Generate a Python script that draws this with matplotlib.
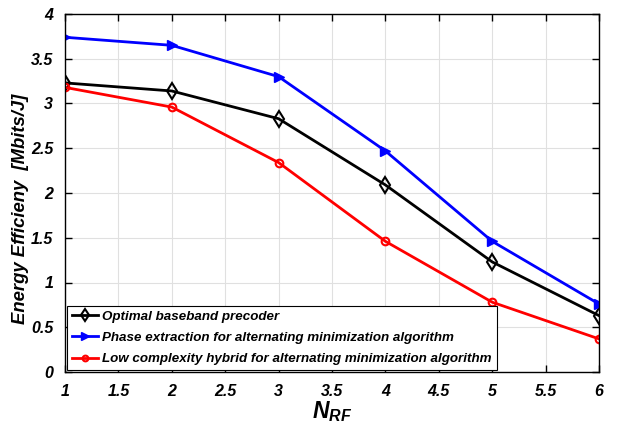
import matplotlib
matplotlib.use("Agg")
import matplotlib.pyplot as plt

plt.rcParams['font.family'] = ['Liberation Sans', 'DejaVu Sans']
plt.rcParams['mathtext.fontset'] = 'custom'
plt.rcParams['mathtext.it'] = 'Liberation Sans:bold:italic'
plt.rcParams['mathtext.rm'] = 'Liberation Sans:bold'

n_rf = [1, 2, 3, 4, 5, 6]
optimal = [3.23, 3.14, 2.83, 2.09, 1.23, 0.63]
phase_extraction = [3.74, 3.65, 3.30, 2.47, 1.46, 0.76]
low_complexity = [3.18, 2.96, 2.34, 1.46, 0.78, 0.37]

labels = [
    "Optimal baseband precoder",
    "Phase extraction for alternating minimization algorithm",
    "Low complexity hybrid for alternating minimization algorithm",
]

xticks = [1, 1.5, 2, 2.5, 3, 3.5, 4, 4.5, 5, 5.5, 6]
yticks = [0, 0.5, 1, 1.5, 2, 2.5, 3, 3.5, 4]

fig = plt.figure(figsize=(6.19, 4.25), dpi=100)
ax = fig.add_axes([65 / 619, 53 / 425, 534 / 619, 358 / 425])

ax.plot(n_rf, optimal, color='black', lw=2, marker='d', ms=8.5,
        mfc='none', mec='black', mew=1.5, label=labels[0])
ax.plot(n_rf, phase_extraction, color='blue', lw=2, marker='>', ms=7.5,
        mfc='blue', mec='blue', label=labels[1])
ax.plot(n_rf, low_complexity, color='red', lw=2, marker='o', ms=5.5,
        mfc='none', mec='red', mew=1.5, label=labels[2])

ax.set_xlim(1, 6)
ax.set_ylim(0, 4)
ax.set_xticks(xticks)
ax.set_xticklabels([f"{v:g}" for v in xticks])
ax.set_yticks(yticks)
ax.set_yticklabels([f"{v:g}" for v in yticks])
ax.grid(True, color='#e0e0e0', lw=0.8)
ax.set_axisbelow(True)
ax.tick_params(direction='in', top=True, right=True, length=5, width=1,
               labelsize=11.5)
ax.tick_params(axis='x', pad=9)
ax.tick_params(axis='y', pad=8.5)
for lab in ax.get_xticklabels() + ax.get_yticklabels():
    lab.set_fontweight('bold')
    lab.set_fontstyle('italic')
for sp in ax.spines.values():
    sp.set_linewidth(1)

ax.set_ylabel("Energy Efficieny  [Mbits/J]", fontsize=13.3, fontweight='bold',
              fontstyle='italic')
ax.yaxis.set_label_coords(-0.068, 0.455)
ax.set_xlabel(r"$N_{RF}$", fontsize=16.5, labelpad=0)

leg = ax.legend(loc='lower left', borderaxespad=0.15, fancybox=False,
                edgecolor='black', framealpha=1, handlelength=2.0,
                handletextpad=0.3, borderpad=0.35, labelspacing=0.68,
                markerscale=0.75,
                prop={'size': 9.6, 'weight': 'bold', 'style': 'italic'})
leg.get_frame().set_linewidth(0.8)

fig.savefig("out.png", dpi=100)
